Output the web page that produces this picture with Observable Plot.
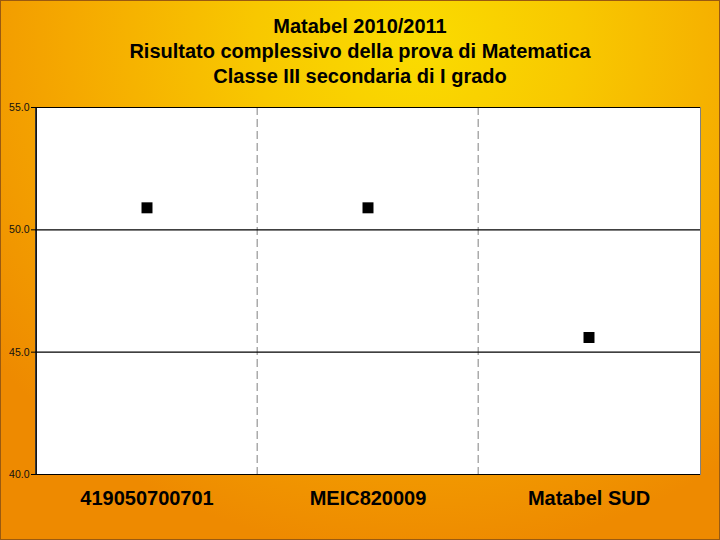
<!DOCTYPE html>
<html>
<head>
<meta charset="utf-8">
<script src="https://cdn.jsdelivr.net/npm/d3@7"></script>
<script src="https://cdn.jsdelivr.net/npm/@observablehq/plot@0.6"></script>
<style>
  html, body { margin: 0; padding: 0; }
  #wrap {
    position: relative; width: 720px; height: 540px; box-sizing: border-box;
    border: 1px solid #9a5a10;
    background: radial-gradient(ellipse 75% 95% at 58% 8%, #fadc00 0%, #f8c800 30%, #f5a800 65%, #ee8a00 100%);
    font-family: "Liberation Sans", Arial, sans-serif;
  }
  #title {
    height: 95px; box-sizing: border-box; padding-top: 13px;
    text-align: center; font-weight: bold; font-size: 20px; line-height: 25px; color: #000;
  }
  svg { display: block; }
</style>
</head>
<body>
<div id="wrap">
  <div id="title">Matabel 2010/2011<br>Risultato complessivo della prova di Matematica<br>Classe III secondaria di I grado</div>
  <div id="chart"></div>
</div>
<script>
const categories = ["419050700701", "MEIC820009", "Matabel SUD"];
const values = [50.9, 50.9, 45.6];
const yTicks = [40, 45, 50, 55];

const data = categories.map((c, i) => ({category: c, value: values[i]}));

const W = 718, H = 444;
const mL = 34, mR = 19, mT = 11, mB = 66;
const bw = (W - mL - mR) / categories.length;

const plot = Plot.plot({
  width: W,
  height: H,
  marginLeft: mL,
  marginRight: mR,
  marginTop: mT,
  marginBottom: mB,
  style: {background: "transparent", fontFamily: "Liberation Sans, Arial, sans-serif", color: "#111", overflow: "visible"},
  x: {type: "band", domain: categories, padding: 0, label: null},
  y: {domain: [40, 55], label: null},
  marks: [
    Plot.frame({fill: "white", stroke: "#808080"}),
    Plot.ruleX(categories.slice(1), {x: d => d, dx: -bw / 2, stroke: "#808080", strokeDasharray: "8,4", insetBottom: -4}),
    Plot.ruleY(yTicks, {stroke: "#000", strokeWidth: 1.2}),
    Plot.ruleX(categories.slice(0, 1), {x: d => d, dx: -bw / 2, stroke: "#000", strokeWidth: 1.5}),
    Plot.axisY(yTicks, {tickFormat: d3.format(".1f"), fontSize: 10.5, tickSize: 4, tickPadding: 2, stroke: "#000", letterSpacing: "-0.3px"}),
    Plot.axisX({tickSize: 0, tickPadding: 16, fontSize: 20, fontWeight: "bold", fill: "#000"}),
    Plot.dot(data, {x: "category", y: "value", symbol: "square", r: 6.2, fill: "#000", stroke: "none"})
  ]
});
document.getElementById("chart").appendChild(plot);
</script>
</body>
</html>
